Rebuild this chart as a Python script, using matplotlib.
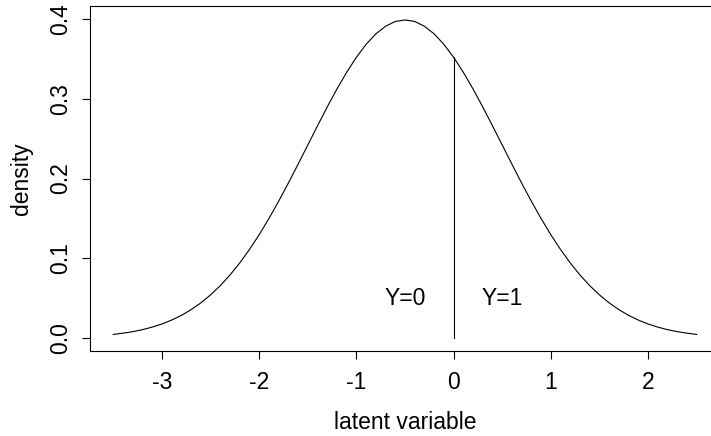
import matplotlib.pyplot as plt

plt.rcParams['font.family'] = ['Liberation Sans', 'DejaVu Sans']

# density curve
latent = [-3.5, -3.4, -3.3, -3.2, -3.1, -3.0, -2.9, -2.8, -2.7, -2.6,
          -2.5, -2.4, -2.3, -2.2, -2.1, -2.0, -1.9, -1.8, -1.7, -1.6,
          -1.5, -1.4, -1.3, -1.2, -1.1, -1.0, -0.9, -0.8, -0.7, -0.6,
          -0.5, -0.4, -0.3, -0.2, -0.1, 0.0, 0.1, 0.2, 0.3, 0.4,
          0.5, 0.6, 0.7, 0.8, 0.9, 1.0, 1.1, 1.2, 1.3, 1.4,
          1.5, 1.6, 1.7, 1.8, 1.9, 2.0, 2.1, 2.2, 2.3, 2.4, 2.5]
density = [0.0044, 0.0060, 0.0079, 0.0104, 0.0136, 0.0175, 0.0224, 0.0283, 0.0355, 0.0440,
           0.0540, 0.0656, 0.0790, 0.0940, 0.1109, 0.1295, 0.1497, 0.1714, 0.1942, 0.2179,
           0.2420, 0.2661, 0.2897, 0.3123, 0.3332, 0.3521, 0.3683, 0.3814, 0.3910, 0.3970,
           0.3989, 0.3970, 0.3910, 0.3814, 0.3683, 0.3521, 0.3332, 0.3123, 0.2897, 0.2661,
           0.2420, 0.2179, 0.1942, 0.1714, 0.1497, 0.1295, 0.1109, 0.0940, 0.0790, 0.0656,
           0.0540, 0.0440, 0.0355, 0.0283, 0.0224, 0.0175, 0.0136, 0.0104, 0.0079, 0.0060, 0.0044]
cut_x = 0.0
cut_top = 0.352
region_labels = ['Y=0', 'Y=1']
region_x = [-0.5, 0.5]
region_y = 0.05
x_ticks = [-3, -2, -1, 0, 1, 2]
y_ticks = [0.0, 0.1, 0.2, 0.3, 0.4]

fs = 16.5
fig = plt.figure(figsize=(7.11, 4.36), dpi=100)
ax = fig.add_axes([90/711, 1-350.7/436, (720-90)/711, (350.7-6)/436])
ax.plot(latent, density, color='black', linewidth=0.8)
ax.plot([cut_x, cut_x], [0, cut_top], color='black', linewidth=0.8)
for lab, xx in zip(region_labels, region_x):
    ax.text(xx, region_y, lab, ha='center', va='center', fontsize=fs)

ax.set_xlim(-3.74, 2.74)
ax.set_ylim(-0.016, 0.4164)
ax.set_xticks(x_ticks)
ax.set_xticklabels([str(t) for t in x_ticks])
ax.set_yticks(y_ticks)
ax.set_yticklabels(['%.1f' % t for t in y_ticks], rotation=90, va='center')
ax.tick_params(labelsize=fs, length=5.8, width=0.8, direction='out')
ax.tick_params(axis='x', pad=9)
ax.tick_params(axis='y', pad=7)
for s in ax.spines.values():
    s.set_linewidth(0.8)
ax.set_xlabel('latent variable', fontsize=fs, labelpad=12)
ax.set_ylabel('density', fontsize=fs, labelpad=12)

plt.savefig('out.png', dpi=100)
plt.close()
